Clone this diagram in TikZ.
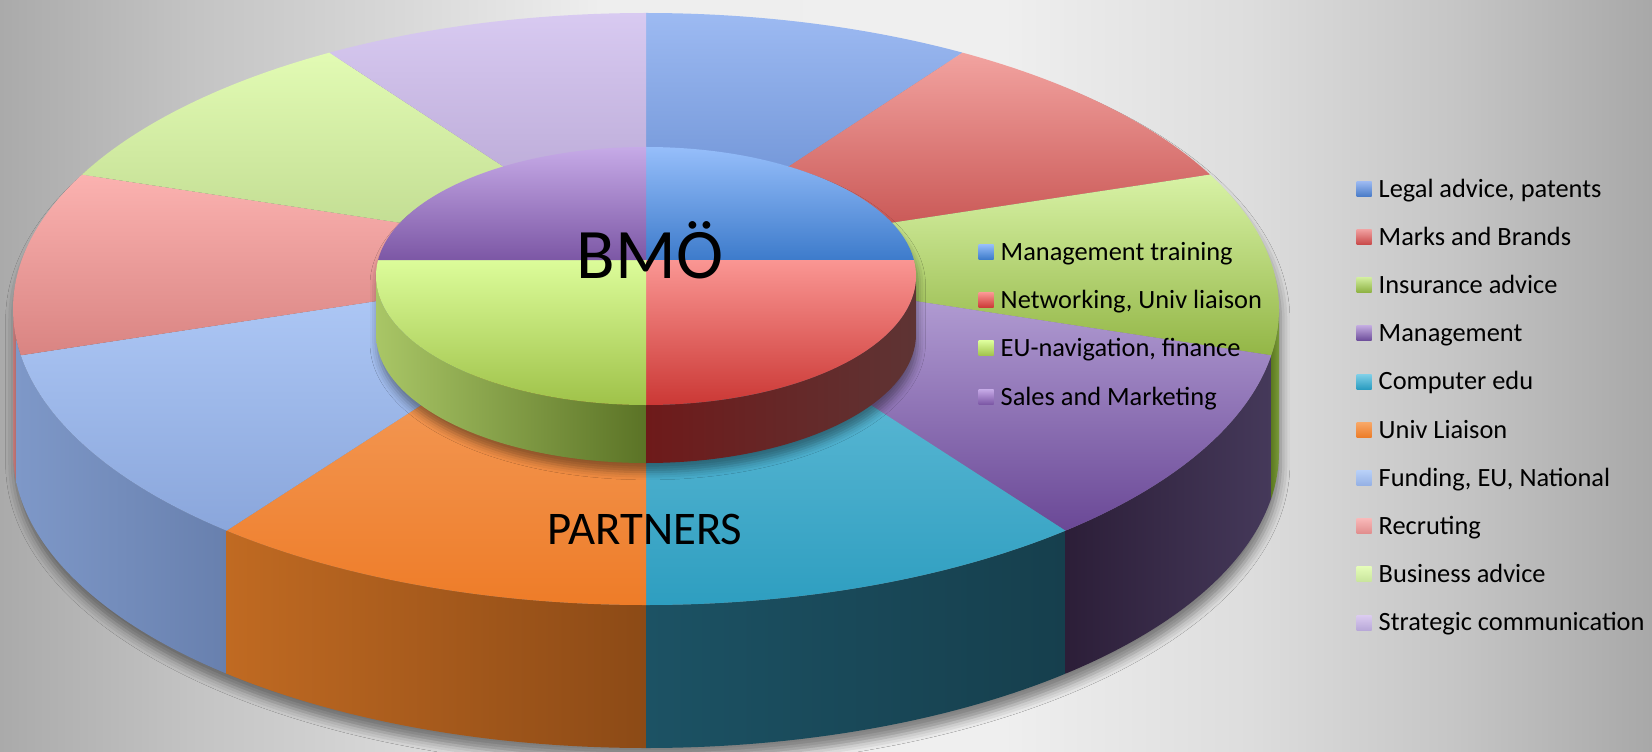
\documentclass[tikz,border=0pt]{standalone}
\usepackage{fontspec}
\setmainfont{Carlito}
\usetikzlibrary{calc,shadows.blur}
% background
\definecolor{bgA}{HTML}{AAAAAA}\definecolor{bgB}{HTML}{C4C4C4}\definecolor{bgC}{HTML}{D8D8D8}
\definecolor{bgD}{HTML}{EEEEEE}\definecolor{bgE}{HTML}{EFEFEF}\definecolor{bgF}{HTML}{DDDDDD}
\definecolor{bgG}{HTML}{C6C6C6}\definecolor{bgH}{HTML}{A8A8A8}
\pgfdeclarehorizontalshading{bgshade}{100bp}{color(0bp)=(bgA); color(25bp)=(bgA); color(31bp)=(bgB); color(37.1bp)=(bgC); color(43.2bp)=(bgD); color(55.3bp)=(bgE); color(62.8bp)=(bgF); color(68.9bp)=(bgG); color(75bp)=(bgH); color(100bp)=(bgH)}
% outer top colours
\definecolor{aT}{HTML}{9DBAF2}\definecolor{aB}{HTML}{5F86CC}
\definecolor{bT}{HTML}{F2A3A0}\definecolor{bB}{HTML}{C24A48}
\definecolor{cT}{HTML}{D8F2A6}\definecolor{cB}{HTML}{93B646}
\definecolor{dT}{HTML}{BCA9DC}\definecolor{dB}{HTML}{6A4896}
\definecolor{eT}{HTML}{74C6DF}\definecolor{eB}{HTML}{2E9EC0}
\definecolor{fT}{HTML}{F6A86E}\definecolor{fB}{HTML}{EE7C28}
\definecolor{gT}{HTML}{B2CCF9}\definecolor{gB}{HTML}{8AA6DB}
\definecolor{hT}{HTML}{FBB2B0}\definecolor{hB}{HTML}{D98482}
\definecolor{iT}{HTML}{E2FBB4}\definecolor{iB}{HTML}{BDD88D}
\definecolor{jT}{HTML}{D8CAF1}\definecolor{jB}{HTML}{B09ECD}
% outer side colours
\definecolor{hSL}{HTML}{C07878}\definecolor{hSR}{HTML}{B06868}
\definecolor{gSL}{HTML}{7E98C8}\definecolor{gSR}{HTML}{6880AE}
\definecolor{fSL}{HTML}{C06A22}\definecolor{fSR}{HTML}{8C4A16}
\definecolor{eSL}{HTML}{1C5264}\definecolor{eSR}{HTML}{163F4D}
\definecolor{dSL}{HTML}{2C1E38}\definecolor{dSR}{HTML}{45395A}
\definecolor{cSL}{HTML}{5C7A20}\definecolor{cSR}{HTML}{7A9A3A}
% inner colours
\definecolor{pT}{HTML}{96BEFA}\definecolor{pB}{HTML}{3D7BCB}
\definecolor{qT}{HTML}{FA9693}\definecolor{qB}{HTML}{CB3835}
\definecolor{rT}{HTML}{DCFC9A}\definecolor{rB}{HTML}{9FC249}
\definecolor{sT}{HTML}{C6AAE7}\definecolor{sB}{HTML}{7C57A5}
\definecolor{rSL}{HTML}{A9C666}\definecolor{rSR}{HTML}{5B7326}
\definecolor{qSL}{HTML}{6E1A1A}\definecolor{qSR}{HTML}{5E3434}
% legend marker colours
\definecolor{mAT}{HTML}{9DBAF2}\definecolor{mAB}{HTML}{4A7CC8}
\definecolor{mBT}{HTML}{F0A0A0}\definecolor{mBB}{HTML}{C84848}
\definecolor{mCT}{HTML}{D0EC9C}\definecolor{mCB}{HTML}{8CB040}
\definecolor{mDT}{HTML}{C0A8DE}\definecolor{mDB}{HTML}{6A4A98}
\definecolor{mET}{HTML}{80D0E8}\definecolor{mEB}{HTML}{2A9CC0}
\definecolor{mFT}{HTML}{F8A868}\definecolor{mFB}{HTML}{EC7C28}
\definecolor{mGT}{HTML}{B8D0F8}\definecolor{mGB}{HTML}{94B0E4}
\definecolor{mHT}{HTML}{F8B8B8}\definecolor{mHB}{HTML}{E08C8C}
\definecolor{mIT}{HTML}{E4FCB8}\definecolor{mIB}{HTML}{C8E49C}
\definecolor{mJT}{HTML}{DCCCF0}\definecolor{mJB}{HTML}{B8A8D8}
\definecolor{mPT}{HTML}{96BEFA}\definecolor{mPB}{HTML}{3D7BCB}
\definecolor{mQT}{HTML}{FA9693}\definecolor{mQB}{HTML}{CB3835}
\definecolor{mRT}{HTML}{DCFC9A}\definecolor{mRB}{HTML}{9FC249}
\definecolor{mST}{HTML}{C6AAE7}\definecolor{mSB}{HTML}{7C57A5}

\newcommand\oslice[4]{\shade[top color=#3,bottom color=#4] (P) -- ($(Ce)+(#1:633 and 296)$) arc[start angle=#1,end angle=#2,x radius=633,y radius=296] -- cycle;}
\newcommand\oside[4]{\shade[left color=#3,right color=#4] ($(Ce)+(#1:633 and 296)$) arc[start angle=#1,end angle=#2,x radius=633,y radius=296] -- ++(0,-143) arc[start angle=#2,end angle=#1,x radius=633,y radius=296] -- cycle;}
\newcommand\islice[4]{\shade[top color=#3,bottom color=#4] (P) -- ($(Ci)+(#1:270 and 129)$) arc[start angle=#1,end angle=#2,x radius=270,y radius=129] -- cycle;}
\newcommand\iside[4]{\shade[left color=#3,right color=#4] ($(Ci)+(#1:270 and 129)$) arc[start angle=#1,end angle=#2,x radius=270,y radius=129] -- ++(0,-58) arc[start angle=#2,end angle=#1,x radius=270,y radius=129] -- cycle;}

\begin{document}
\begin{tikzpicture}[x=0.01cm,y=0.01cm,
  legtext/.style={anchor=base west,inner sep=0pt,font=\fontsize{7.5pt}{9pt}\selectfont,text=black},
  legmark/.style={anchor=south west,inner sep=0pt,minimum width=0.15cm,minimum height=0.15cm,shade}]
\useasboundingbox (0,0) rectangle (1652,751);
\shade[shading=bgshade] (0,0) rectangle (1652,751);
\coordinate (Ce) at (646,442);
\coordinate (Ci) at (646,475);
\coordinate (P) at (646,491);
% outer shadow
\path[blur shadow={shadow xshift=0.5pt,shadow yshift=-3.2pt,shadow blur radius=2.6pt,shadow opacity=45}]
  ($(Ce)+(180:633 and 296)$) arc[start angle=180,end angle=0,x radius=633,y radius=296] -- ++(0,-143) arc[start angle=0,end angle=-180,x radius=633,y radius=296] -- cycle;
% outer sides
\oside{-180}{-174}{hSL}{hSR}
\oside{-174}{-131.5}{gSL}{gSR}
\oside{-131.5}{-90}{fSL}{fSR}
\oside{-90}{-48.5}{eSL}{eSR}
\oside{-48.5}{-9}{dSL}{dSR}
\oside{-9}{0}{cSL}{cSR}
% outer top slices
\oslice{90}{60}{aT}{aB}
\oslice{60}{27}{bT}{bB}
\oslice{27}{-9}{cT}{cB}
\oslice{-9}{-48.5}{dT}{dB}
\oslice{-48.5}{-90}{eT}{eB}
\oslice{-90}{-131.5}{fT}{fB}
\oslice{-131.5}{-171}{gT}{gB}
\oslice{-171}{-207}{hT}{hB}
\oslice{153}{120}{iT}{iB}
\oslice{120}{90}{jT}{jB}
% inner shadow
\path[blur shadow={shadow xshift=0.5pt,shadow yshift=-2.6pt,shadow blur radius=2.2pt,shadow opacity=40}]
  ($(Ci)+(180:270 and 129)$) arc[start angle=180,end angle=0,x radius=270,y radius=129] -- ++(0,-58) arc[start angle=0,end angle=-180,x radius=270,y radius=129] -- cycle;
% inner sides
\iside{-180}{-90}{rSL}{rSR}
\iside{-90}{0}{qSL}{qSR}
% inner top
\islice{90}{7.1}{pT}{pB}
\islice{7.1}{-90}{qT}{qB}
\islice{-90}{-187.1}{rT}{rB}
\islice{172.9}{90}{sT}{sB}
% titles
\node (bmo) [anchor=base,font=\fontsize{20.2pt}{24pt}\selectfont] at (650,472) {BMÖ};
\node (partners) [anchor=base,font=\fontsize{13.3pt}{16pt}\selectfont] at (645,207) {PARTNERS};
% inner legend
\node (im1) [legmark,top color=mPT,bottom color=mPB] at (978,491) {};
\node (it1) [legtext] at (1000,491) {Management training};
\node (im2) [legmark,top color=mQT,bottom color=mQB] at (978,442.7) {};
\node (it2) [legtext] at (1000,442.7) {Networking, Univ liaison};
\node (im3) [legmark,top color=mRT,bottom color=mRB] at (978,394.4) {};
\node (it3) [legtext] at (1000,394.4) {EU-navigation, finance};
\node (im4) [legmark,top color=mST,bottom color=mSB] at (978,346) {};
\node (it4) [legtext] at (1000,346) {Sales and Marketing};
% right legend
\node (om1) [legmark,top color=mAT,bottom color=mAB] at (1356,554) {};
\node (ot1) [legtext] at (1378,554) {Legal advice, patents};
\node (om2) [legmark,top color=mBT,bottom color=mBB] at (1356,505.8) {};
\node (ot2) [legtext] at (1378,505.8) {Marks and Brands};
\node (om3) [legmark,top color=mCT,bottom color=mCB] at (1356,457.6) {};
\node (ot3) [legtext] at (1378,457.6) {Insurance advice};
\node (om4) [legmark,top color=mDT,bottom color=mDB] at (1356,409.4) {};
\node (ot4) [legtext] at (1378,409.4) {Management};
\node (om5) [legmark,top color=mET,bottom color=mEB] at (1356,361.2) {};
\node (ot5) [legtext] at (1378,361.2) {Computer edu};
\node (om6) [legmark,top color=mFT,bottom color=mFB] at (1356,313) {};
\node (ot6) [legtext] at (1378,313) {Univ Liaison};
\node (om7) [legmark,top color=mGT,bottom color=mGB] at (1356,264.8) {};
\node (ot7) [legtext] at (1378,264.8) {Funding, EU, National};
\node (om8) [legmark,top color=mHT,bottom color=mHB] at (1356,216.6) {};
\node (ot8) [legtext] at (1378,216.6) {Recruting};
\node (om9) [legmark,top color=mIT,bottom color=mIB] at (1356,168.4) {};
\node (ot9) [legtext] at (1378,168.4) {Business advice};
\node (om10) [legmark,top color=mJT,bottom color=mJB] at (1356,120.2) {};
\node (ot10) [legtext] at (1378,120.2) {Strategic communication};
\end{tikzpicture}
\end{document}
